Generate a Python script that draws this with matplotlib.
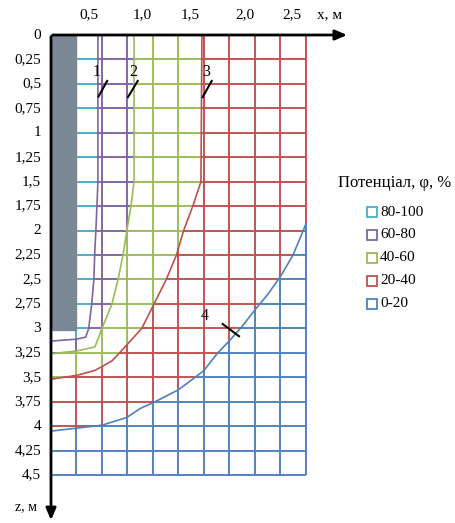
import numpy as np
import matplotlib.pyplot as plt
from matplotlib.path import Path

plt.rcParams['font.family'] = ['Liberation Serif', 'DejaVu Serif']

# grid of the contour chart, m
x_grid = np.arange(0, 2.51, 0.25)
z_grid = np.arange(0, 4.51, 0.25)

# isolines (x, z in m)
line1_x = [0.46, 0.46, 0.44, 0.43, 0.42, 0.40, 0.37, 0.34, 0.25, 0.0]
line1_z = [0.0, 1.5, 2.0, 2.2, 2.5, 2.74, 3.0, 3.09, 3.11, 3.13]
line2_x = [0.814, 0.814, 0.784, 0.745, 0.706, 0.657, 0.598, 0.5, 0.431, 0.255, 0.0]
line2_z = [0.0, 1.5, 1.75, 1.99, 2.25, 2.5, 2.75, 3.0, 3.19, 3.23, 3.26]
line3_x = [1.48, 1.47, 1.39, 1.30, 1.23, 1.13, 1.01, 0.89, 0.725, 0.6, 0.5, 0.43, 0.255, 0.0]
line3_z = [0.0, 1.5, 1.75, 2.0, 2.25, 2.5, 2.75, 3.0, 3.19, 3.33, 3.39, 3.43, 3.48, 3.52]
line4_x = [2.5, 2.373, 2.255, 2.127, 2.0, 1.873, 1.755, 1.627, 1.5, 1.363, 1.245,
           1.02, 0.873, 0.745, 0.5, 0.255, 0.0]
line4_z = [1.93, 2.25, 2.46, 2.65, 2.81, 2.98, 3.12, 3.26, 3.43, 3.54, 3.63,
           3.75, 3.82, 3.91, 3.99, 4.02, 4.05]

lines = [(line1_x, line1_z), (line2_x, line2_z), (line3_x, line3_z), (line4_x, line4_z)]
line_names = ['1', '2', '3', '4']

# bands: index = number of isolines enclosing the point
band_labels = ['0-20', '20-40', '40-60', '60-80', '80-100']
band_colors = ['#4f81bd', '#c0504d', '#9bbb59', '#8064a2', '#4bacc6']
line_colors = ['#8064a2', '#9bbb59', '#c0504d', '#4f81bd']

# electrode (grey block)
electrode_w = 0.25
electrode_h = 3.02

x_ticks = ['0,5', '1,0', '1,5', '2,0', '2,5']
x_tick_pos = [0.373, 0.892, 1.363, 1.902, 2.363]
z_ticks = ['0', '0,25', '0,5', '0,75', '1', '1,25', '1,5', '1,75', '2', '2,25', '2,5',
           '2,75', '3', '3,25', '3,5', '3,75', '4', '4,25', '4,5']


def make_path(xs, zs):
    X = xs[0] if zs[0] == 0 else xs[0] + 1.0
    verts = list(zip(xs, zs)) + [(-1, zs[-1]), (-1, -1), (X, -1), (X, zs[0])]
    return Path(verts)


paths = [make_path(np.array(x), np.array(z)) for x, z in lines]


def band_of(pts):
    n = np.zeros(len(pts), dtype=int)
    for p in paths:
        n += p.contains_points(pts).astype(int)
    return n


fig = plt.figure(figsize=(4.56, 5.23), dpi=100)
ax = fig.add_axes([0, 0, 1, 1])
ax.set_xlim(-0.5, 3.9706)
ax.set_ylim(4.990, -0.358)
ax.axis('off')


def draw_run(pts):
    b = band_of(pts)
    start = 0
    for i in range(1, len(pts) + 1):
        if i == len(pts) or b[i] != b[start]:
            seg = pts[start:i + 1] if i < len(pts) else pts[start:i]
            ax.plot(seg[:, 0], seg[:, 1], color=band_colors[b[start]], lw=1.45,
                    alpha=0.95, solid_capstyle='butt', zorder=2)
            start = i


s = np.linspace(0, 1, 600)
for xv in x_grid:
    zz = s * z_grid[-1]
    draw_run(np.column_stack([np.full_like(zz, xv), zz]))
for zv in z_grid:
    xx = s * x_grid[-1]
    draw_run(np.column_stack([xx, np.full_like(xx, zv)]))

# isolines
for (x, z), c in zip(lines, line_colors):
    ax.plot(x, z, color=c, lw=1.2, zorder=3)

# electrode
ax.add_patch(plt.Rectangle((0, 0), electrode_w, electrode_h, color='#7a8896', zorder=4))

# axes with arrows
ax.annotate('', xy=(2.93, 0), xytext=(-0.01, 0),
            arrowprops=dict(arrowstyle='-|>,head_length=0.7,head_width=0.3', color='black', lw=2),
            zorder=5)
ax.annotate('', xy=(0, 4.99), xytext=(0, -0.01),
            arrowprops=dict(arrowstyle='-|>,head_length=0.7,head_width=0.3', color='black', lw=2),
            zorder=5)

for t, p in zip(x_ticks, x_tick_pos):
    ax.text(p, -0.205, t, ha='center', va='center', fontsize=11)
ax.text(2.735, -0.205, 'х, м', ha='center', va='center', fontsize=11)

for t, zv in zip(z_ticks, z_grid):
    ax.text(-0.098, zv, t, ha='right', va='center', fontsize=11)
ax.text(-0.245, 4.82, 'z, м', ha='center', va='center', fontsize=10)

# isoline labels with pointers
label_xy = [(0.45, 0.38), (0.81, 0.38), (1.52, 0.38), (1.51, 2.87)]
pointer = [((0.465, 0.63), (0.55, 0.47)), ((0.755, 0.635), (0.85, 0.47)),
           ((1.487, 0.635), (1.575, 0.47)), ((1.683, 2.955), (1.843, 3.08))]
for name, (tx, tz), (p0, p1) in zip(line_names, label_xy, pointer):
    ax.text(tx, tz, name, ha='center', va='center', fontsize=11.5, zorder=6)
    ax.plot([p0[0], p1[0]], [p0[1], p1[1]], color='black', lw=1.5, zorder=6)

# legend
ax.text(2.815, 1.515, 'Потенціал, φ, %', ha='left', va='center', fontsize=12)
for i, (lab, c) in enumerate(zip(band_labels[::-1], band_colors[::-1])):
    zl = 1.81 + i * 0.235
    ax.plot(3.147, zl, marker='s', ms=6.5, mfc='white', mec=c, mew=1.3, ls='none')
    ax.text(3.225, zl, lab, ha='left', va='center', fontsize=11)

fig.savefig('out.png', dpi=100)
